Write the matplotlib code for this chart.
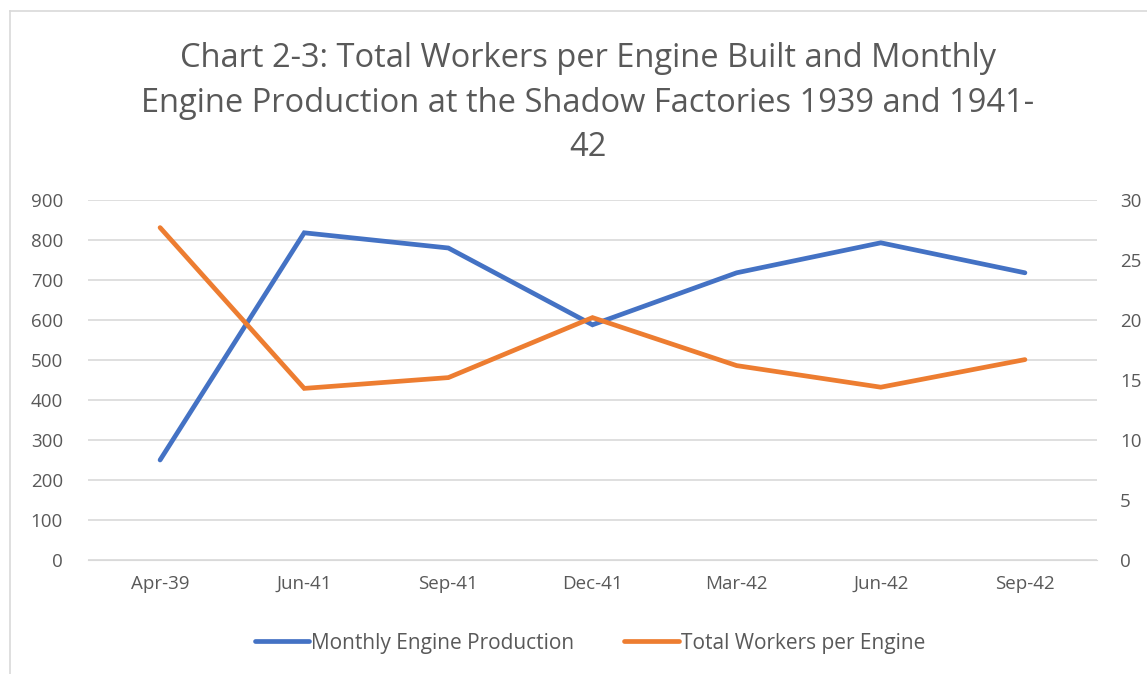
import matplotlib
matplotlib.use("Agg")
import matplotlib.pyplot as plt
from matplotlib.lines import Line2D

categories = ["Apr-39", "Jun-41", "Sep-41", "Dec-41", "Mar-42", "Jun-42", "Sep-42"]
production = [250, 818, 780, 588, 718, 793, 718]
workers = [27.7, 14.3, 15.2, 20.2, 16.2, 14.4, 16.7]
left_ticks = [0, 100, 200, 300, 400, 500, 600, 700, 800, 900]
right_ticks = [0, 5, 10, 15, 20, 25, 30]
title = "Chart 2-3: Total Workers per Engine Built and Monthly\nEngine Production at the Shadow Factories 1939 and 1941-\n42"

plt.rcParams['font.family'] = ['Open Sans', 'DejaVu Sans']
W, H = 1147, 674
fig = plt.figure(figsize=(W/100, H/100), dpi=100)

# chart border
fig.add_artist(Line2D([10/W, 10/W], [0, 1 - 11/H], color="#d9d9d9", lw=1.2))
fig.add_artist(Line2D([10/W, 1], [1 - 11/H, 1 - 11/H], color="#d9d9d9", lw=1.2))

x0, x1, y0, y1 = 88, 1097, 200, 560
ax = fig.add_axes([x0/W, 1 - y1/H, (x1-x0)/W, (y1-y0)/H])
ax2 = ax.twinx()
xs = list(range(len(categories)))
ax.plot(xs, production, color="#4472C4", lw=3.4, solid_capstyle="round", solid_joinstyle="miter", zorder=3)
ax2.plot(xs, workers, color="#ED7D31", lw=3.4, solid_capstyle="round", solid_joinstyle="miter", zorder=3)
ax.set_xlim(-0.5, len(categories) - 0.5)
ax.set_ylim(0, 900)
ax2.set_ylim(0, 30)
ax.set_yticks(left_ticks)
ax2.set_yticks(right_ticks)
ax.set_xticks(xs)
ax.set_xticklabels(categories)
ax.grid(axis="y", color="#d9d9d9", lw=1.2, zorder=0)
ax.set_axisbelow(True)
for a in (ax, ax2):
    for s in a.spines.values():
        s.set_visible(False)
    a.tick_params(length=0, labelsize=13.5, labelcolor="#595959")
ax.tick_params(axis="y", pad=18)
ax2.tick_params(axis="y", pad=16.5)
ax.tick_params(axis="x", pad=11)
ax.spines["bottom"].set_visible(True)
ax.spines["bottom"].set_color("#d9d9d9")

fig.text(588/W, 1 - 42/H, title, ha="center", va="top", fontsize=23.5, color="#595959", linespacing=1.47)

handles = [Line2D([], [], color="#4472C4", lw=3.4, solid_capstyle="round"),
           Line2D([], [], color="#ED7D31", lw=3.4, solid_capstyle="round")]
fig.legend(handles, ["Monthly Engine Production", "Total Workers per Engine"],
           loc="center", bbox_to_anchor=(590/W, 1 - 643/H), ncol=2, frameon=False,
           fontsize=15, labelcolor="#595959", handlelength=2.6, handletextpad=0.1,
           columnspacing=2.4)

fig.savefig("out.png", dpi=100)
